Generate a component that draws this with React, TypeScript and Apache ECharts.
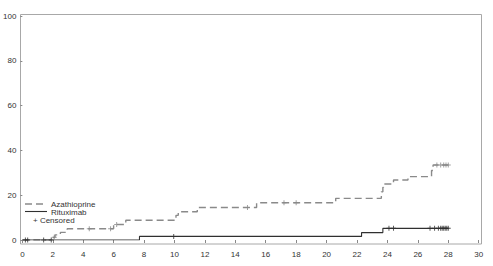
import React, { useEffect, useRef } from "react";
import * as echarts from "echarts";

const xTicks = [0, 2, 4, 6, 8, 10, 12, 14, 16, 18, 20, 22, 24, 26, 28, 30];
const yTicks = [0, 20, 40, 60, 80, 100];

// Cumulative incidence step points [time, value]
const azaSteps: [number, number][] = [
  [0, 0], [2.05, 1.2], [2.15, 2.3], [2.5, 3.4], [2.95, 5.0], [6.0, 6.9], [6.8, 8.8],
  [10.1, 11.0], [10.25, 12.6], [11.5, 14.5], [15.4, 16.6], [20.6, 18.6],
  [23.6, 21.5], [23.7, 23.5], [23.75, 25.0], [24.4, 26.8], [25.35, 28.3],
  [26.9, 31.0], [27.0, 33.5], [28.0, 33.5],
];
const ritSteps: [number, number][] = [
  [0, 0], [7.7, 1.6], [22.3, 3.3], [23.7, 5.2], [28.0, 5.2],
];
const azaCensored: [number, number][] = [
  [2.1, 1.2], [4.4, 5.0], [5.8, 5.0], [6.2, 6.9], [14.8, 14.5], [17.2, 16.6],
  [18.0, 16.6], [27.25, 33.5], [27.5, 33.5], [27.7, 33.5], [27.85, 33.5], [28.0, 33.5],
];
const ritCensored: [number, number][] = [
  [0.2, 0], [0.35, 0], [1.4, 0], [1.9, 0], [9.95, 1.6], [24.1, 5.2], [24.4, 5.2],
  [26.8, 5.2], [27.1, 5.2], [27.35, 5.2], [27.5, 5.2], [27.6, 5.2], [27.7, 5.2],
  [27.8, 5.2], [27.9, 5.2], [28.0, 5.2],
];
const seriesNames = ["Azathioprine", "Rituximab"];
const censoredLabel = "Censored";

const PLUS = "path://M-0.2,-1H0.2V-0.2H1V0.2H0.2V1H-0.2V0.2H-1V-0.2H-0.2Z";
const FONT = "Liberation Sans, Arial, sans-serif";
const AZA_COLOR = "#8a8a8a";
const RIT_COLOR = "#303030";

export default function App() {
  const ref = useRef<HTMLDivElement>(null);
  useEffect(() => {
    if (!ref.current) return;
    const chart = echarts.init(ref.current, null, { renderer: "svg" });
    chart.setOption({
      animation: false,
      backgroundColor: "#ffffff",
      grid: { left: 22, right: 14.3, top: 16, bottom: 26 },
      xAxis: {
        type: "value",
        min: 0,
        max: 30,
        interval: 2,
        offset: 4,
        axisLine: { show: false },
        axisTick: { show: true, length: 3, lineStyle: { color: "#888" } },
        axisLabel: { margin: 6, fontSize: 8, color: "#333", fontFamily: FONT },
        splitLine: { show: false },
        data: xTicks,
      },
      yAxis: {
        type: "value",
        min: 0,
        max: 100,
        interval: 20,
        offset: 2,
        axisLine: { show: false },
        axisTick: { show: true, length: 2, lineStyle: { color: "#888" } },
        axisLabel: { margin: 4, fontSize: 8, color: "#333", fontFamily: FONT },
        splitLine: { show: false },
      },
      series: [
        {
          name: seriesNames[0],
          type: "line",
          step: "end",
          data: azaSteps,
          showSymbol: false,
          symbol: "none",
          lineStyle: { color: AZA_COLOR, width: 1.4, type: [7, 4] },
          z: 3,
        },
        {
          name: seriesNames[1],
          type: "line",
          step: "end",
          data: ritSteps,
          showSymbol: false,
          symbol: "none",
          lineStyle: { color: RIT_COLOR, width: 1.1 },
          z: 3,
        },
        {
          name: censoredLabel + " A",
          type: "scatter",
          data: azaCensored,
          symbol: PLUS,
          symbolSize: 5,
          itemStyle: { color: AZA_COLOR },
          z: 4,
        },
        {
          name: censoredLabel + " R",
          type: "scatter",
          data: ritCensored,
          symbol: PLUS,
          symbolSize: 5,
          itemStyle: { color: RIT_COLOR },
          z: 4,
        },
      ],
      graphic: [
        {
          type: "rect",
          shape: { x: 20.5, y: 14.5, width: 461, height: 229.5 },
          style: { fill: "none", stroke: "#a8a8a8", lineWidth: 1 },
          silent: true,
        },
        {
          type: "line",
          shape: { x1: 25, y1: 204, x2: 47, y2: 204 },
          style: { stroke: AZA_COLOR, lineWidth: 1.4, lineDash: [7, 4] },
        },
        {
          type: "text",
          x: 51,
          y: 204,
          style: { text: seriesNames[0], fontSize: 8, fontFamily: FONT, fill: "#333", textVerticalAlign: "middle" },
        },
        {
          type: "line",
          shape: { x1: 25, y1: 211.5, x2: 47, y2: 211.5 },
          style: { stroke: RIT_COLOR, lineWidth: 1.1 },
        },
        {
          type: "text",
          x: 51,
          y: 212,
          style: { text: seriesNames[1], fontSize: 8, fontFamily: FONT, fill: "#333", textVerticalAlign: "middle" },
        },
        {
          type: "text",
          x: 33,
          y: 220.5,
          style: { text: "+ " + censoredLabel, fontSize: 8, fontFamily: FONT, fill: "#333", textVerticalAlign: "middle" },
        },
      ],
    });
    return () => chart.dispose();
  }, []);
  return <div ref={ref} style={{ position: "fixed", left: 0, top: 0, width: 493, height: 266 }} />;
}
